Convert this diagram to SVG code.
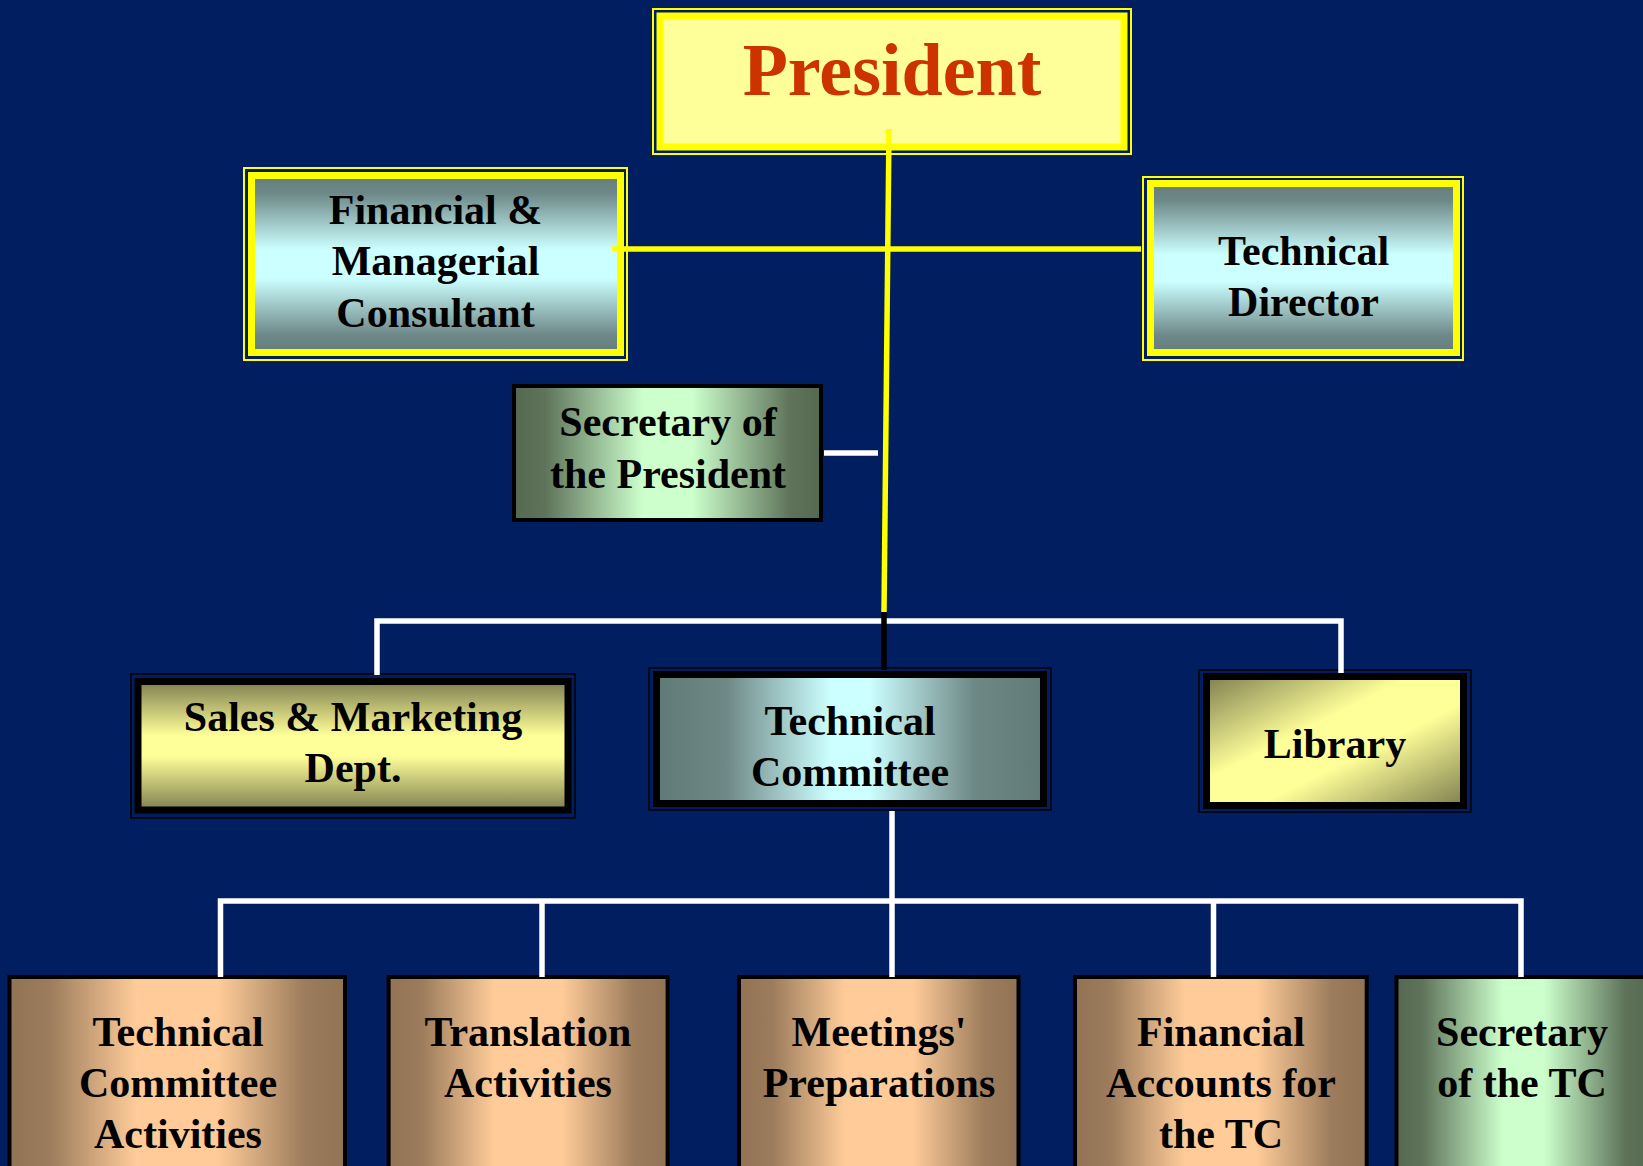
<svg xmlns="http://www.w3.org/2000/svg" width="1643" height="1166" viewBox="0 0 1643 1166">
<style>
  .t { font-family: "Liberation Serif", "Times New Roman", serif; font-weight: bold; font-size: 42px; fill: #000; text-anchor: middle; }
  .pres { font-family: "Liberation Serif", "Times New Roman", serif; font-weight: bold; font-size: 74px; fill: #CC3300; text-anchor: middle; }
  .ythin { fill: none; stroke: #FFFF00; stroke-width: 2; }
  .ythick { stroke: #FFFF00; stroke-width: 7; }
  .bthin { fill: none; stroke: #000; stroke-width: 1.5; }
  .bthick { stroke: #000; stroke-width: 7; }
  .bbox { stroke: #000; stroke-width: 4; }
  .cy { fill: none; stroke: #FFFF00; stroke-width: 5.5; }
  .cw { fill: none; stroke: #FFFFFF; stroke-width: 5.5; }
  .cb { fill: none; stroke: #000; stroke-width: 5.5; }
</style>
<defs>
  <linearGradient id="gCyanV" x1="0" y1="0" x2="0" y2="1">
    <stop offset="0" stop-color="#647C7C"/>
    <stop offset="0.1" stop-color="#6E8888"/>
    <stop offset="0.42" stop-color="#CCFFFF"/>
    <stop offset="0.58" stop-color="#CCFFFF"/>
    <stop offset="0.9" stop-color="#6E8888"/>
    <stop offset="1" stop-color="#647C7C"/>
  </linearGradient>
  <linearGradient id="gCyanH" x1="0" y1="0" x2="1" y2="0">
    <stop offset="0" stop-color="#607A78"/>
    <stop offset="0.18" stop-color="#6E8886"/>
    <stop offset="0.45" stop-color="#CCFFFF"/>
    <stop offset="0.55" stop-color="#CCFFFF"/>
    <stop offset="0.82" stop-color="#6E8886"/>
    <stop offset="1" stop-color="#607A78"/>
  </linearGradient>
  <linearGradient id="gYelV" x1="0" y1="0" x2="0" y2="1">
    <stop offset="0" stop-color="#7F7F50"/>
    <stop offset="0.42" stop-color="#FFFF99"/>
    <stop offset="0.58" stop-color="#FFFF99"/>
    <stop offset="1" stop-color="#7F7F50"/>
  </linearGradient>
  <linearGradient id="gYelD" x1="0" y1="0" x2="1" y2="1">
    <stop offset="0" stop-color="#7F7F50"/>
    <stop offset="0.4" stop-color="#FFFF99"/>
    <stop offset="0.6" stop-color="#FFFF99"/>
    <stop offset="1" stop-color="#7F7F50"/>
  </linearGradient>
  <linearGradient id="gGreenH" x1="0" y1="0" x2="1" y2="0">
    <stop offset="0" stop-color="#556950"/>
    <stop offset="0.1" stop-color="#5E735A"/>
    <stop offset="0.42" stop-color="#CCFFCC"/>
    <stop offset="0.58" stop-color="#CCFFCC"/>
    <stop offset="0.9" stop-color="#5E735A"/>
    <stop offset="1" stop-color="#556950"/>
  </linearGradient>
  <linearGradient id="gTanH" x1="0" y1="0" x2="1" y2="0">
    <stop offset="0" stop-color="#917355"/>
    <stop offset="0.12" stop-color="#9C7C5C"/>
    <stop offset="0.38" stop-color="#FFCC99"/>
    <stop offset="0.62" stop-color="#FFCC99"/>
    <stop offset="0.88" stop-color="#9C7C5C"/>
    <stop offset="1" stop-color="#917355"/>
  </linearGradient>
</defs>
<rect x="0" y="0" width="1643" height="1166" fill="#001E60"/>

<g id="president">
  <rect class="ythin" x="653" y="9" width="478" height="145"/>
  <rect class="ythick" x="660" y="16" width="464" height="131" fill="#FFFF99"/>
  <text class="pres" x="892" y="95">President</text>
</g>

<g id="financial-consultant">
  <rect class="ythin" x="244" y="168" width="383" height="192"/>
  <rect class="ythick" x="251.5" y="175.5" width="369" height="177" fill="url(#gCyanV)"/>
  <text class="t" x="435.5" y="224">Financial &amp;</text>
  <text class="t" x="435.5" y="275">Managerial</text>
  <text class="t" x="435.5" y="327">Consultant</text>
</g>

<g id="technical-director">
  <rect class="ythin" x="1143" y="177" width="320" height="183"/>
  <rect class="ythick" x="1150.5" y="183.5" width="306" height="169" fill="url(#gCyanV)"/>
  <text class="t" x="1303.5" y="265">Technical</text>
  <text class="t" x="1303.5" y="316">Director</text>
</g>

<g id="secretary-president">
  <rect class="bbox" x="514" y="386" width="307" height="134" fill="url(#gGreenH)"/>
  <text class="t" x="668" y="436">Secretary of</text>
  <text class="t" x="668" y="488">the President</text>
</g>

<g id="sales-marketing">
  <rect class="bthin" x="131" y="674" width="444" height="144"/>
  <rect class="bthick" x="138" y="681.5" width="430" height="128.5" fill="url(#gYelV)"/>
  <text class="t" x="353" y="731">Sales &amp; Marketing</text>
  <text class="t" x="353" y="782">Dept.</text>
</g>

<g id="technical-committee">
  <rect class="bthin" x="649" y="668" width="402" height="142"/>
  <rect class="bthick" x="656.5" y="674.5" width="387" height="129" fill="url(#gCyanH)"/>
  <text class="t" x="850" y="735">Technical</text>
  <text class="t" x="850" y="786">Committee</text>
</g>

<g id="library">
  <rect class="bthin" x="1199" y="670" width="272" height="142"/>
  <rect class="bthick" x="1206.5" y="676.5" width="257" height="129" fill="url(#gYelD)"/>
  <text class="t" x="1335" y="758">Library</text>
</g>

<g id="tc-activities">
  <rect class="bbox" x="9.5" y="977" width="335.5" height="230" fill="url(#gTanH)"/>
  <text class="t" x="178" y="1046">Technical</text>
  <text class="t" x="178" y="1097">Committee</text>
  <text class="t" x="178" y="1148">Activities</text>
</g>

<g id="translation">
  <rect class="bbox" x="388.6" y="977" width="279" height="230" fill="url(#gTanH)"/>
  <text class="t" x="528" y="1046">Translation</text>
  <text class="t" x="528" y="1097">Activities</text>
</g>

<g id="meetings">
  <rect class="bbox" x="739" y="977" width="279.5" height="230" fill="url(#gTanH)"/>
  <text class="t" x="879" y="1046">Meetings'</text>
  <text class="t" x="879" y="1097">Preparations</text>
</g>

<g id="financial-accounts">
  <rect class="bbox" x="1075" y="977" width="291.7" height="230" fill="url(#gTanH)"/>
  <text class="t" x="1221" y="1046">Financial</text>
  <text class="t" x="1221" y="1097">Accounts for</text>
  <text class="t" x="1221" y="1148">the TC</text>
</g>

<g id="secretary-tc">
  <rect class="bbox" x="1396.5" y="977" width="254" height="230" fill="url(#gGreenH)"/>
  <text class="t" x="1522" y="1046">Secretary</text>
  <text class="t" x="1522" y="1097">of the TC</text>
</g>

<g id="connectors">
  <line class="cw" x1="824" y1="453" x2="878" y2="453"/>
  <polyline class="cw" points="377,675 377,621 1341,621 1341,673"/>
  <line class="cw" x1="892" y1="811" x2="892" y2="977"/>
  <polyline class="cw" points="220.5,977 220.5,901 1521,901 1521,977"/>
  <line class="cw" x1="542" y1="901" x2="542" y2="977"/>
  <line class="cw" x1="1213.5" y1="901" x2="1213.5" y2="977"/>
  <line class="cy" x1="612" y1="249" x2="1141" y2="249"/>
  <line class="cy" x1="889" y1="129" x2="884" y2="612"/>
  <line class="cb" x1="884" y1="612" x2="884" y2="670"/>
</g>
</svg>
